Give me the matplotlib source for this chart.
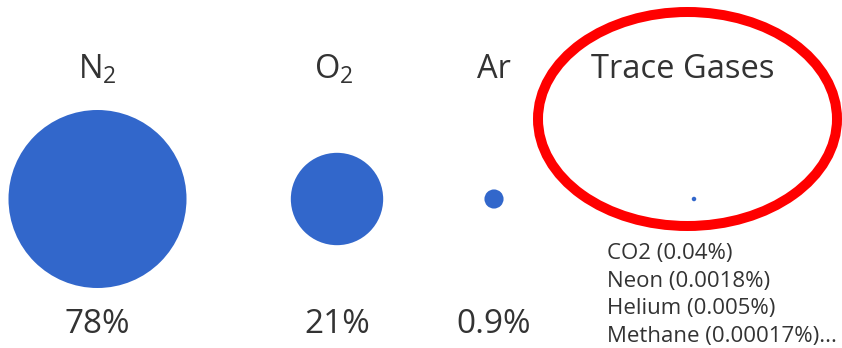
import matplotlib.pyplot as plt
from matplotlib.patches import Ellipse

gases = ['$\\mathregular{N_2}$', '$\\mathregular{O_2}$', 'Ar', 'Trace Gases']
percents = [78, 21, 0.9, 0.05]
pct_labels = ['78%', '21%', '0.9%', '']
trace_list = ['CO2 (0.04%)', 'Neon (0.0018%)', 'Helium (0.005%)', 'Methane (0.00017%)...']

x_pos = [97.5, 337, 494, 694]
title_x = [97, 334, 494, 683]


def main():
    plt.rcParams['font.family'] = ['Open Sans', 'DejaVu Sans']
    plt.rcParams['mathtext.fontset'] = 'custom'
    plt.rcParams['mathtext.rm'] = 'Open Sans'
    fig = plt.figure(figsize=(8.42, 3.48), dpi=100)
    ax = fig.add_axes([0, 0, 1, 1])
    ax.set_xlim(0, 842)
    ax.set_ylim(348, 0)
    ax.axis('off')

    # area of marker proportional to percentage
    sizes = [210.6 * p for p in percents]
    ax.scatter(x_pos, [199] * len(x_pos), s=sizes, color='#3267cb', linewidths=0)

    txt = '#333333'
    for x, name in zip(title_x, gases):
        ax.text(x, 78.5, name, ha='center', va='baseline', fontsize=23.5, color=txt)
    for x, lab in zip(x_pos, pct_labels):
        if lab:
            ax.text(x, 333, lab, ha='center', va='baseline', fontsize=24, color=txt)
    for i, line in enumerate(trace_list):
        ax.text(607, 259 + i * 27.7, line, ha='left', va='baseline', fontsize=16, color=txt)

    ax.add_patch(Ellipse((687.5, 119), 299, 214, fill=False, edgecolor='#ff0000', linewidth=7.2))

    fig.savefig('out.png', dpi=100)


if __name__ == '__main__':
    main()
